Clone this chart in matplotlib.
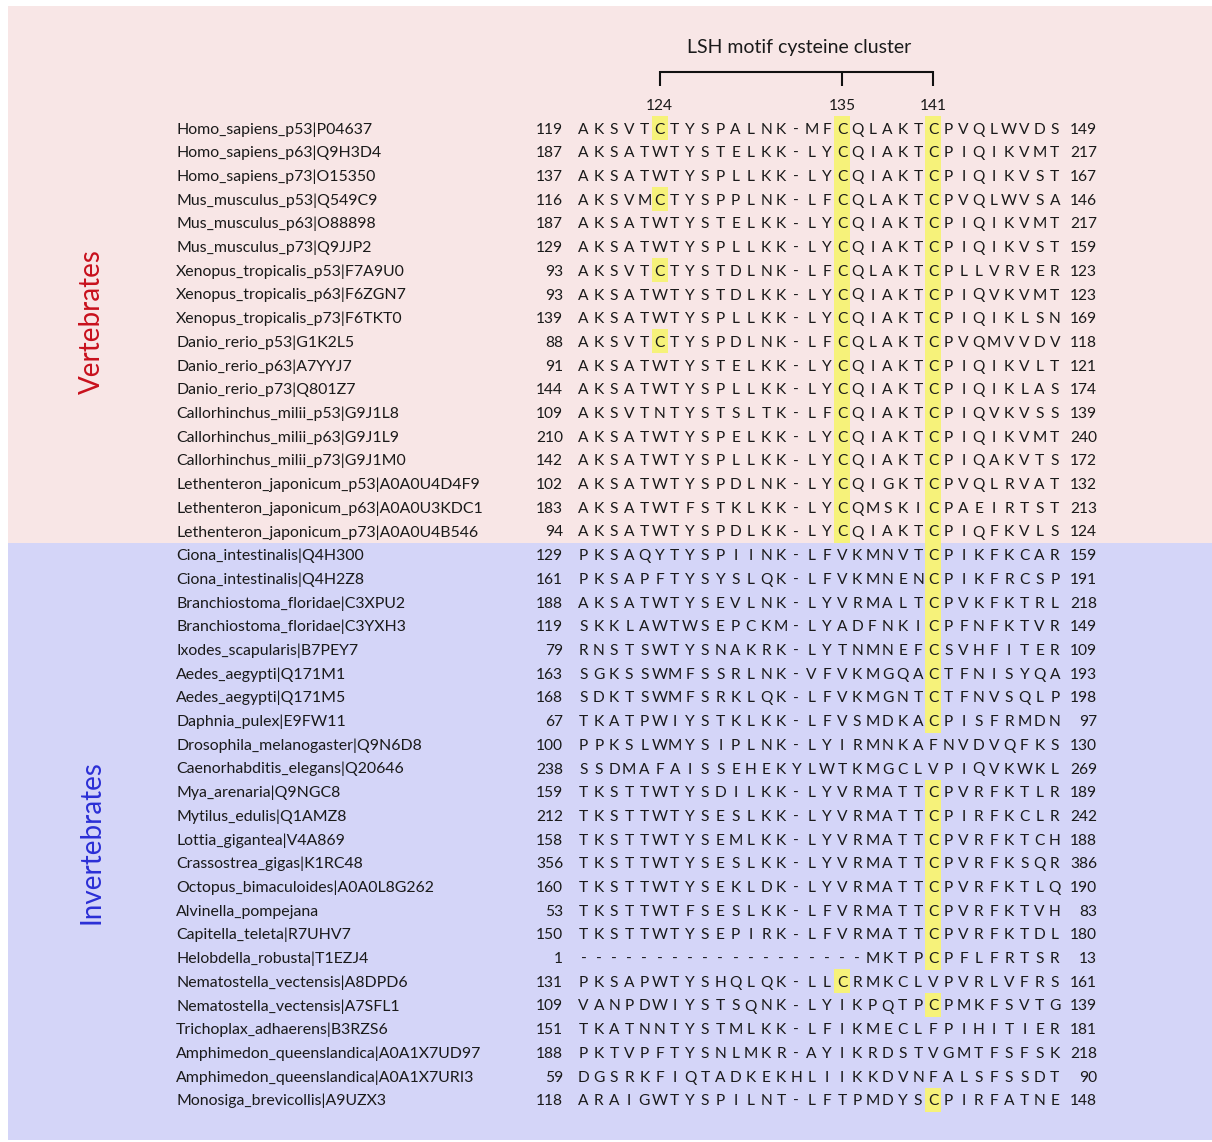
import matplotlib
matplotlib.use("Agg")
import matplotlib.pyplot as plt
from matplotlib.patches import Rectangle

plt.rcParams['font.family'] = ['Lato', 'DejaVu Sans']

# alignment data, one entry per sequence
names = [
    "Homo_sapiens_p53|P04637", "Homo_sapiens_p63|Q9H3D4", "Homo_sapiens_p73|O15350",
    "Mus_musculus_p53|Q549C9", "Mus_musculus_p63|O88898", "Mus_musculus_p73|Q9JJP2",
    "Xenopus_tropicalis_p53|F7A9U0", "Xenopus_tropicalis_p63|F6ZGN7", "Xenopus_tropicalis_p73|F6TKT0",
    "Danio_rerio_p53|G1K2L5", "Danio_rerio_p63|A7YYJ7", "Danio_rerio_p73|Q801Z7",
    "Callorhinchus_milii_p53|G9J1L8", "Callorhinchus_milii_p63|G9J1L9", "Callorhinchus_milii_p73|G9J1M0",
    "Lethenteron_japonicum_p53|A0A0U4D4F9", "Lethenteron_japonicum_p63|A0A0U3KDC1",
    "Lethenteron_japonicum_p73|A0A0U4B546",
    "Ciona_intestinalis|Q4H300", "Ciona_intestinalis|Q4H2Z8",
    "Branchiostoma_floridae|C3XPU2", "Branchiostoma_floridae|C3YXH3",
    "Ixodes_scapularis|B7PEY7", "Aedes_aegypti|Q171M1", "Aedes_aegypti|Q171M5",
    "Daphnia_pulex|E9FW11", "Drosophila_melanogaster|Q9N6D8", "Caenorhabditis_elegans|Q20646",
    "Mya_arenaria|Q9NGC8", "Mytilus_edulis|Q1AMZ8", "Lottia_gigantea|V4A869",
    "Crassostrea_gigas|K1RC48", "Octopus_bimaculoides|A0A0L8G262", "Alvinella_pompejana",
    "Capitella_teleta|R7UHV7", "Helobdella_robusta|T1EZJ4",
    "Nematostella_vectensis|A8DPD6", "Nematostella_vectensis|A7SFL1",
    "Trichoplax_adhaerens|B3RZS6", "Amphimedon_queenslandica|A0A1X7UD97",
    "Amphimedon_queenslandica|A0A1X7URI3", "Monosiga_brevicollis|A9UZX3",
]
starts = [119, 187, 137, 116, 187, 129, 93, 93, 139, 88, 91, 144, 109, 210, 142, 102, 183, 94,
          129, 161, 188, 119, 79, 163, 168, 67, 100, 238, 159, 212, 158, 356, 160, 53, 150, 1,
          131, 109, 151, 188, 59, 118]
ends = [149, 217, 167, 146, 217, 159, 123, 123, 169, 118, 121, 174, 139, 240, 172, 132, 213, 124,
        159, 191, 218, 149, 109, 193, 198, 97, 130, 269, 189, 242, 188, 386, 190, 83, 180, 13,
        161, 139, 181, 218, 90, 148]
seqs = [
    "AKSVTCTYSPALNK-MFCQLAKTCPVQLWVDS",
    "AKSATWTYSTELKK-LYCQIAKTCPIQIKVMT",
    "AKSATWTYSPLLKK-LYCQIAKTCPIQIKVST",
    "AKSVMCTYSPPLNK-LFCQLAKTCPVQLWVSA",
    "AKSATWTYSTELKK-LYCQIAKTCPIQIKVMT",
    "AKSATWTYSPLLKK-LYCQIAKTCPIQIKVST",
    "AKSVTCTYSTDLNK-LFCQLAKTCPLLVRVER",
    "AKSATWTYSTDLKK-LYCQIAKTCPIQVKVMT",
    "AKSATWTYSPLLKK-LYCQIAKTCPIQIKLSN",
    "AKSVTCTYSPDLNK-LFCQLAKTCPVQMVVDV",
    "AKSATWTYSTELKK-LYCQIAKTCPIQIKVLT",
    "AKSATWTYSPLLKK-LYCQIAKTCPIQIKLAS",
    "AKSVTNTYSTSLTK-LFCQIAKTCPIQVKVSS",
    "AKSATWTYSPELKK-LYCQIAKTCPIQIKVMT",
    "AKSATWTYSPLLKK-LYCQIAKTCPIQAKVTS",
    "AKSATWTYSPDLNK-LYCQIGKTCPVQLRVAT",
    "AKSATWTFSTKLKK-LYCQMSKICPAEIRTST",
    "AKSATWTYSPDLKK-LYCQIAKTCPIQFKVLS",
    "PKSAQYTYSPIINK-LFVKMNVTCPIKFKCAR",
    "PKSAPFTYSYSLQK-LFVKMNENCPIKFRCSP",
    "AKSATWTYSEVLNK-LYVRMALTCPVKFKTRL",
    "SKKLAWTWSEPCKM-LYADFNKICPFNFKTVR",
    "RNSTSWTYSNAKRK-LYTNMNEFCSVHFITER",
    "SGKSSWMFSSRLNK-VFVKMGQACTFNISYQA",
    "SDKTSWMFSRKLQK-LFVKMGNTCTFNVSQLP",
    "TKATPWIYSTKLKK-LFVSMDKACPISFRMDN",
    "PPKSLWMYSIPLNK-LYIRMNKAFNVDVQFKS",
    "SSDMAFAISSEHEKYLWTKMGCLVPIQVKWKL",
    "TKSTTWTYSDILKK-LYVRMATTCPVRFKTLR",
    "TKSTTWTYSESLKK-LYVRMATTCPIRFKCLR",
    "TKSTTWTYSEMLKK-LYVRMATTCPVRFKTCH",
    "TKSTTWTYSESLKK-LYVRMATTCPVRFKSQR",
    "TKSTTWTYSEKLDK-LYVRMATTCPVRFKTLQ",
    "TKSTTWTFSESLKK-LFVRMATTCPVRFKTVH",
    "TKSTTWTYSEPIRK-LFVRMATTCPVRFKTDL",
    "-------------------MKTPCPFLFRTSR",
    "PKSAPWTYSHQLQK-LLCRMKCLVPVRLVFRS",
    "VANPDWIYSTSQNK-LYIKPQTPCPMKFSVTG",
    "TKATNNTYSTMLKK-LFIKMECLFPIHITIER",
    "PKTVPFTYSNLMKR-AYIKRDSTVGMTFSFSK",
    "DGSRKFIQTADKEKHLIIKKDVNFALSFSSDT",
    "ARAIGWTYSPILNT-LFTPMDYSCPIRFATNE",
]
n_vert = 18
group_labels = ["Vertebrates", "Invertebrates"]
motif_sites = [124, 135, 141]   # numbered on the first (human p53) sequence
motif_title = "LSH motif cysteine cluster"

# site number -> alignment column, using the reference sequence
def site_to_col(seq, start, site):
    pos = start - 1
    for i, ch in enumerate(seq):
        if ch != '-':
            pos += 1
            if pos == site:
                return i
    return None

motif_cols = [site_to_col(seqs[0], starts[0], s) for s in motif_sites]

W, H = 1212, 1142
fig = plt.figure(figsize=(W / 100, H / 100), dpi=100)
ax = fig.add_axes([0, 0, 1, 1])
ax.set_xlim(0, W)
ax.set_ylim(H, 0)
ax.axis('off')

# layout
row0, dy = 128, 23.7
col0, dx = 583.6, 15.2
name_x, lnum_x, rnum_x = 176, 563, 1097
fs = 11.2
name_fs = 11.4
txt_col = '#1a1a1a'
pink, blue, yellow = '#f8e6e6', '#d4d5f8', '#f6f27a'

row_y = [row0 + i * dy for i in range(len(seqs))]
split_y = (row_y[n_vert - 1] + row_y[n_vert]) / 2

ax.add_patch(Rectangle((8, 6), W - 8, split_y - 6, facecolor=pink, edgecolor='none'))
ax.add_patch(Rectangle((8, split_y), W - 8, H - 2 - split_y, facecolor=blue, edgecolor='none'))

base_off = 5.6  # baseline below row centre
for r, (nm, st, sq, en) in enumerate(zip(names, starts, seqs, ends)):
    y = row_y[r]
    ax.text(name_x, y + base_off, nm, fontsize=name_fs, color=txt_col, ha='left', va='baseline')
    ax.text(lnum_x, y + base_off, str(st), fontsize=fs, color=txt_col, ha='right', va='baseline')
    ax.text(rnum_x, y + base_off, str(en), fontsize=fs, color=txt_col, ha='right', va='baseline')
    for c, ch in enumerate(sq):
        x = col0 + c * dx
        if ch == 'C' and c in motif_cols:
            ax.add_patch(Rectangle((x - 8, y - dy / 2 - 0.2), 16, dy + 0.4,
                                   facecolor=yellow, edgecolor='none', zorder=1))
        ax.text(x, y + base_off, ch, fontsize=fs, color=txt_col, ha='center', va='baseline', zorder=2)

# motif bracket and site numbers
cx = [col0 + c * dx for c in motif_cols]
ax.plot([cx[0], cx[-1]], [72, 72], color='#111111', lw=1.5, solid_capstyle='butt')
for x in cx:
    ax.plot([x, x], [71.3, 86], color='#111111', lw=1.5, solid_capstyle='butt')
for x, s in zip(cx, motif_sites):
    ax.text(x, 110, str(s), fontsize=fs, color=txt_col, ha='center', va='baseline')
ax.text((cx[0] + cx[-1]) / 2 + 3, 53, motif_title, fontsize=14, color=txt_col,
        ha='center', va='baseline')

# group labels
ax.text(92, 322, group_labels[0], fontsize=20, color='#c8101c',
        rotation=90, ha='center', va='center')
ax.text(92, 842, group_labels[1], fontsize=20, color='#2b2fd6',
        rotation=90, ha='center', va='center')

fig.savefig('out.png', dpi=100)
